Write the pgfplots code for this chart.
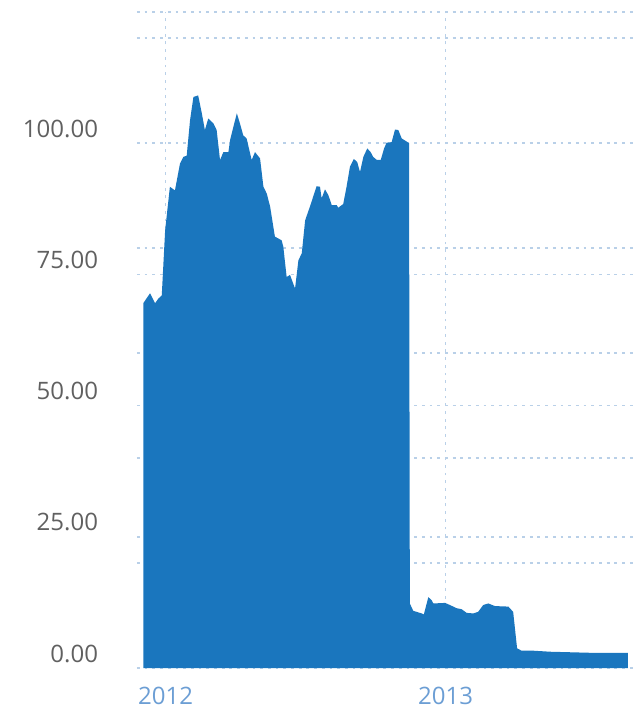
\documentclass[border=0pt]{standalone}
\usepackage{fontspec}
\setmainfont{Open Sans}
\usepackage{pgfplots}
\usepackage{pgfplotstable}
\pgfplotsset{compat=1.18}
\definecolor{areablue}{RGB}{26,118,190}
\definecolor{gridblue}{RGB}{185,208,232}
\definecolor{ylab}{RGB}{96,96,96}
\definecolor{xlab}{RGB}{108,158,212}

\pgfplotstableread{
x y
2011.920 69.5
2011.930 70.3
2011.944 71.4
2011.962 69.5
2011.974 70.4
2011.986 71.0
2011.998 83.4
2012.015 91.7
2012.033 91.0
2012.051 96.1
2012.063 97.4
2012.075 97.6
2012.087 104.4
2012.099 108.8
2012.116 109.1
2012.129 105.7
2012.140 102.5
2012.152 104.7
2012.170 103.8
2012.182 102.5
2012.194 96.8
2012.206 98.3
2012.224 98.3
2012.230 100.6
2012.254 105.7
2012.265 103.8
2012.277 101.5
2012.289 100.9
2012.307 96.8
2012.319 98.3
2012.337 97.1
2012.349 91.7
2012.361 90.4
2012.373 87.9
2012.390 82.2
2012.414 81.5
2012.420 80.3
2012.432 74.5
2012.444 74.9
2012.462 72.3
2012.474 77.7
2012.486 79.0
2012.498 85.3
2012.515 87.9
2012.539 91.8
2012.551 91.7
2012.557 89.5
2012.569 91.2
2012.581 90.1
2012.593 88.2
2012.611 88.2
2012.616 87.7
2012.634 88.4
2012.646 91.7
2012.658 95.5
2012.672 97.0
2012.684 96.4
2012.694 94.5
2012.706 97.4
2012.720 99.0
2012.732 98.3
2012.741 97.4
2012.754 96.8
2012.768 96.8
2012.780 99.0
2012.789 100.1
2012.807 100.2
2012.819 102.6
2012.831 102.5
2012.843 100.9
2012.861 100.3
2012.869 100.0
2012.872 12.3
2012.884 10.9
2012.914 10.4
2012.922 10.2
2012.938 13.5
2012.950 12.9
2012.956 12.3
2012.998 12.4
2013.015 12.0
2013.039 11.4
2013.057 11.2
2013.075 10.5
2013.099 10.4
2013.116 10.7
2013.134 12.0
2013.152 12.3
2013.176 11.8
2013.224 11.7
2013.241 10.7
2013.255 3.75
2013.271 3.3
2013.312 3.3
2013.373 3.1
2013.444 3.0
2013.515 2.9
2013.587 2.9
2013.651 2.9
}\pricedata

\begin{document}
\begin{tikzpicture}
\useasboundingbox (-68.5pt,-21pt) rectangle (248pt,334pt);
\begin{axis}[
  at={(0,0)}, anchor=south west,
  scale only axis, width=248pt, height=328pt,
  xmin=2011.8975, xmax=2013.669, ymin=0, ymax=125,
  axis line style={draw=none},
  tick style={draw=none},
  major tick length=0pt,
  grid=major,
  major grid style={gridblue, line width=0.8pt, dash pattern=on 1.4pt off 2.45pt},
  xtick={2012,2013}, xticklabels={2012,2013},
  ytick={0,25,50,75,100}, yticklabels={0.00,25.00,50.00,75.00,100.00},
  extra y ticks={20,40,60,80,120,125},
  extra y tick labels={,,,,,},
  extra y tick style={grid=major},
  tick label style={font=\fontsize{12}{14}\selectfont},
  yticklabel style={anchor=base east, inner sep=0pt, xshift=-19.3pt, yshift=3pt, text=ylab},
  xticklabel style={anchor=base, inner sep=0pt, yshift=-18pt, text=xlab},
]
\addplot[fill=areablue, draw=none] table[x=x,y=y] {\pricedata} \closedcycle;
\end{axis}
\end{tikzpicture}
\end{document}
